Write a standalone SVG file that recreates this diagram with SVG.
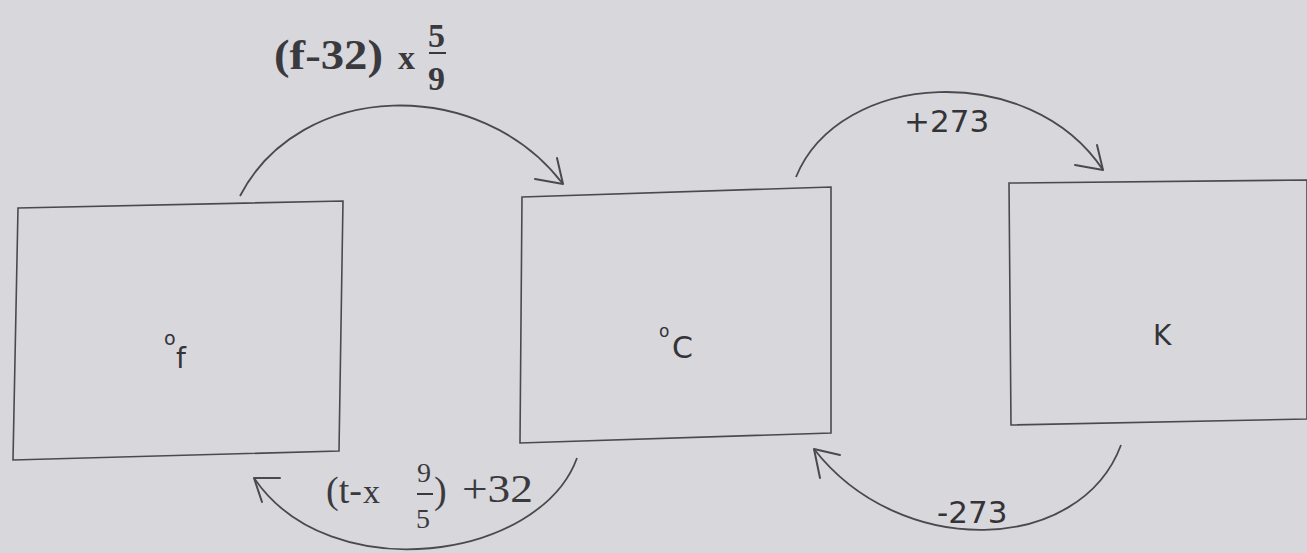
<svg xmlns="http://www.w3.org/2000/svg" width="1307" height="553" viewBox="0 0 1307 553">
<style>
.box{fill:none;stroke:#4a4a4e;stroke-width:1.6}
.arc{fill:none;stroke:#4a4a4e;stroke-width:1.8}
.head{fill:none;stroke:#4a4a4e;stroke-width:2;stroke-linecap:round;stroke-linejoin:round}
.serif{font-family:"Liberation Serif",serif;fill:#3a3a3e}
.sans{font-family:"DejaVu Sans","Liberation Sans",sans-serif;fill:#333338}
.bar{stroke:#3a3a3e;stroke-width:2}
</style>
<rect width="1307" height="553" fill="#d8d7dc"/>
<g id="node-f">
<polygon class="box" points="18,208 343,201 339,451 13,460"/>
<text class="sans" x="164" y="345" font-size="19">o</text>
<text class="sans" x="176" y="368" font-size="28">f</text>
</g>
<g id="node-c">
<polygon class="box" points="522,197 831,187 831,433 520,443"/>
<text class="sans" x="659" y="337" font-size="17">o</text>
<text class="sans" x="672" y="358" font-size="30">C</text>
</g>
<g id="node-k">
<polygon class="box" points="1009,183 1307,180 1307,419 1011,425"/>
<text class="sans" x="1153" y="345" font-size="28">K</text>
</g>
<g id="connectors">
<path class="arc" d="M240,196 C300,80 480,75 563,184"/>
<path class="head" d="M535,179 L563,184 L557,158"/>
<path class="arc" d="M796,177 C840,70 1030,60 1103,170"/>
<path class="head" d="M1075,165 L1103,170 L1097,145"/>
<path class="arc" d="M577,458 C540,560 330,590 254,478"/>
<path class="head" d="M280,478 L254,478 L262,502"/>
<path class="arc" d="M1121,445 C1080,555 900,560 814,449"/>
<path class="head" d="M840,455 L814,449 L820,478"/>
</g>
<g id="labels">
<text class="serif" x="274" y="69" font-size="42" font-weight="bold" textLength="109" lengthAdjust="spacingAndGlyphs">(f-32)</text>
<text class="serif" x="398" y="69" font-size="34" font-weight="bold">x</text>
<text class="serif" x="428" y="47" font-size="34" font-weight="bold">5</text>
<line class="bar" x1="429" y1="53" x2="446" y2="53"/>
<text class="serif" x="428" y="90" font-size="34" font-weight="bold">9</text>
<text class="sans" x="904" y="132" font-size="31">+273</text>
<text class="serif" x="326" y="503" font-size="38">(t-</text>
<text class="serif" x="363" y="503" font-size="34">x</text>
<text class="serif" x="417" y="482" font-size="28">9</text>
<line class="bar" x1="417" y1="494" x2="433" y2="494"/>
<text class="serif" x="416" y="528" font-size="28">5</text>
<text class="serif" x="434" y="503" font-size="38">)</text>
<text class="serif" x="462" y="502" font-size="40" textLength="71" lengthAdjust="spacingAndGlyphs">+32</text>
<text class="sans" x="937" y="523" font-size="31">-273</text>
</g>
</svg>
